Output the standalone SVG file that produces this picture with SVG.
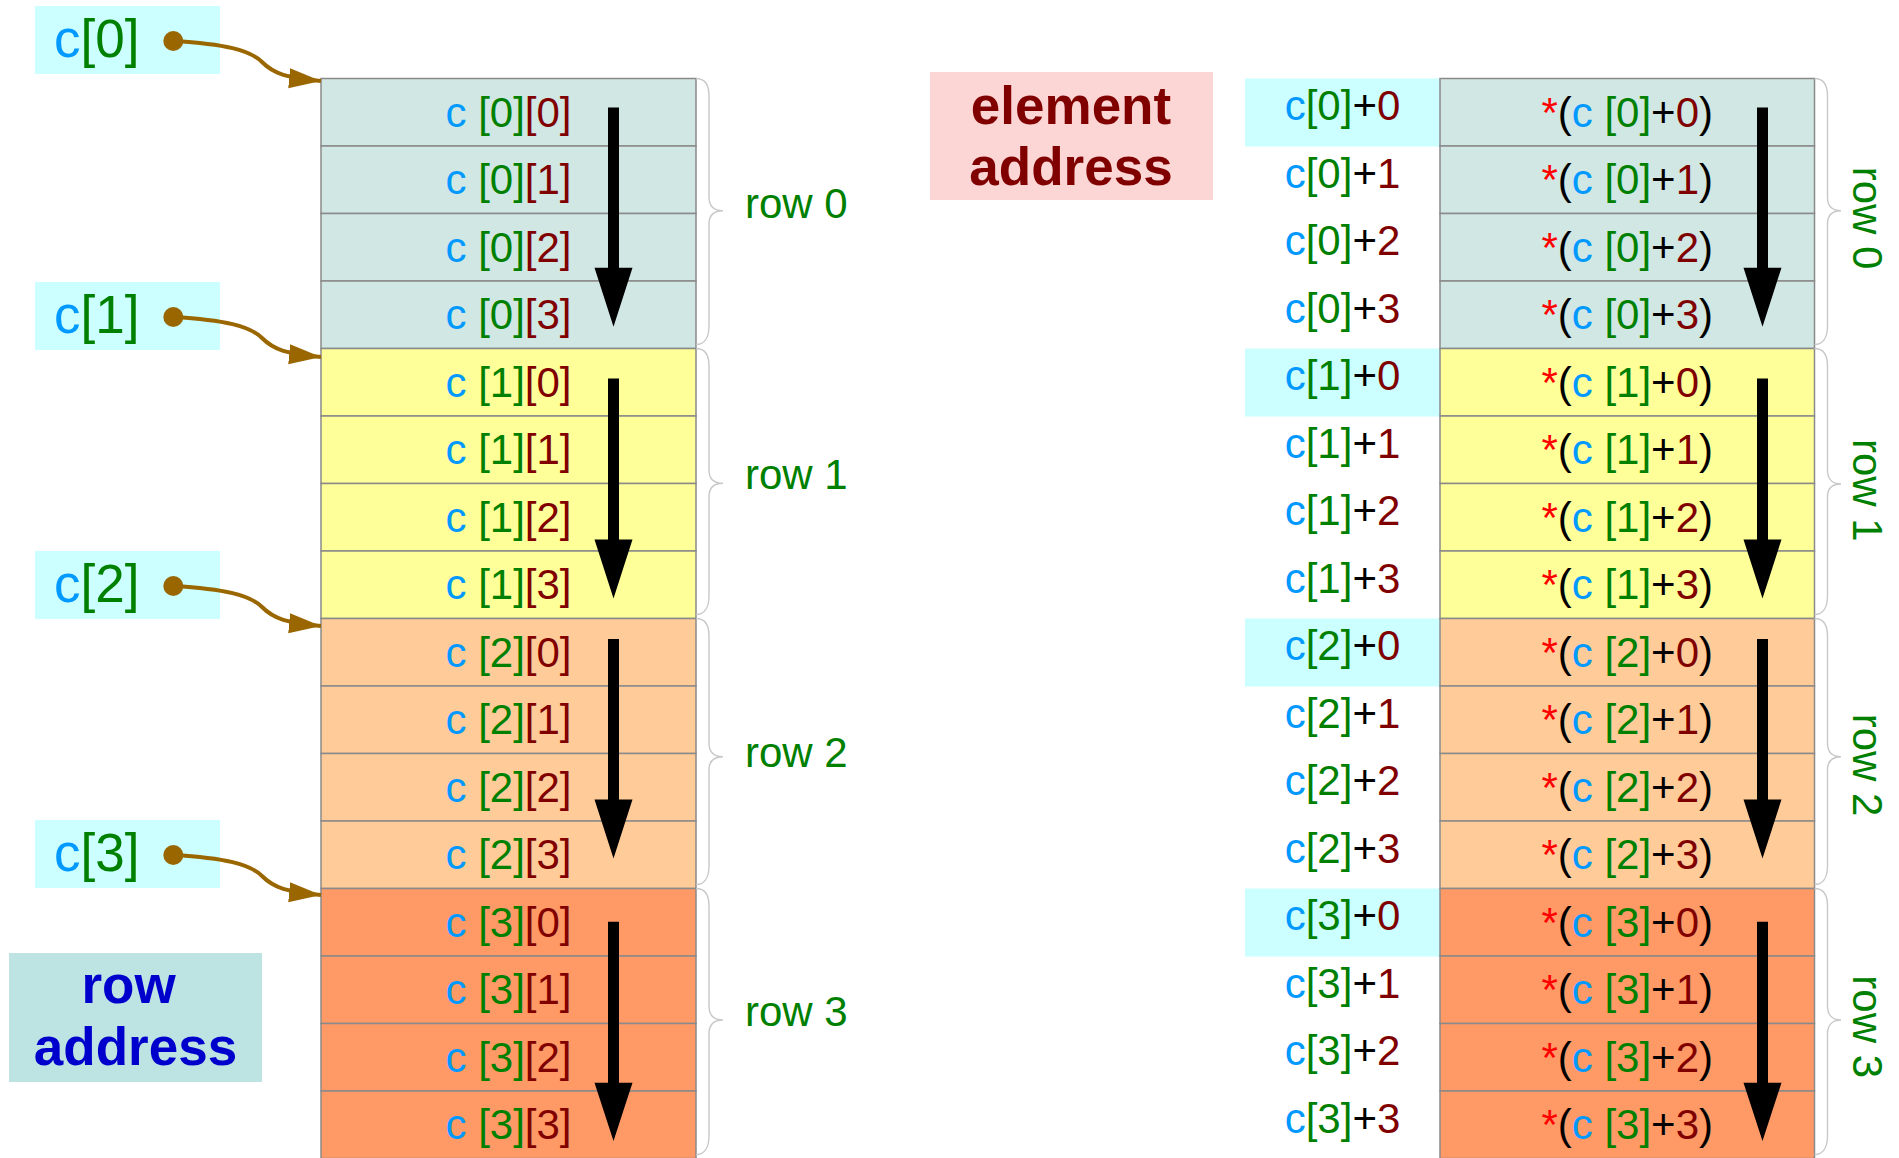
<svg xmlns="http://www.w3.org/2000/svg" width="1899" height="1158" viewBox="0 0 1899 1158">
<style>
text{font-family:"Liberation Sans",Arial,sans-serif}
.cell{stroke:#8a8a8a;stroke-width:1.5}
.r0{fill:#d0e7e3}.r1{fill:#ffff99}.r2{fill:#ffcc99}.r3{fill:#ff9966}
.t{font-size:42px;text-anchor:middle}
.lbl{font-size:53px}
.b{fill:#0099ff}.g{fill:#008000}.d{fill:#800000}.k{fill:#000}.s{fill:#ff0000}
.rowl{font-size:42px;fill:#008000}
.brace{fill:none;stroke:#c8c8c8;stroke-width:1.4}
.cyan{fill:#ccffff}
.conn{fill:none;stroke:#996600;stroke-width:4}
.big{font-size:53px;font-weight:bold;text-anchor:middle}
</style>
<defs>
<marker id="ah" markerUnits="userSpaceOnUse" markerWidth="34" markerHeight="22" refX="32" refY="10" orient="auto" viewBox="0 0 34 22">
<path d="M0,0 L32,10 L0,20 z" fill="#996600"/>
</marker>
</defs>

<!-- row address pointers -->
<g id="ptr0"><rect class="cyan" x="35" y="6" width="185" height="68"/><text class="lbl" x="54" y="57"><tspan class="b">c</tspan><tspan class="g">[0]</tspan></text></g>
<g id="ptr1"><rect class="cyan" x="35" y="282" width="185" height="68"/><text class="lbl" x="54" y="333"><tspan class="b">c</tspan><tspan class="g">[1]</tspan></text></g>
<g id="ptr2"><rect class="cyan" x="35" y="551" width="185" height="68"/><text class="lbl" x="54" y="602"><tspan class="b">c</tspan><tspan class="g">[2]</tspan></text></g>
<g id="ptr3"><rect class="cyan" x="35" y="820" width="185" height="68"/><text class="lbl" x="54" y="871"><tspan class="b">c</tspan><tspan class="g">[3]</tspan></text></g>

<g id="rowaddr"><rect x="9" y="953" width="253" height="129" fill="#bde3e3"/><text class="big" fill="#0000cc" x="128.5" y="1003">row</text><text class="big" fill="#0000cc" x="135.5" y="1065">address</text></g>
<g id="elemaddr"><rect x="930" y="72" width="283" height="128" fill="#fcd5d5"/><text class="big" fill="#800000" x="1071" y="124">element</text><text class="big" fill="#800000" x="1071" y="185">address</text></g>

<!-- left table -->
<g id="left-table">
<g id="L00"><rect class="cell r0" x="321" y="78.5" width="375" height="67.5"/><text class="t" x="508.5" y="126.5"><tspan class="b">c</tspan> <tspan class="g">[0]</tspan><tspan class="d">[0]</tspan></text></g>
<g id="L01"><rect class="cell r0" x="321" y="146" width="375" height="67.5"/><text class="t" x="508.5" y="194"><tspan class="b">c</tspan> <tspan class="g">[0]</tspan><tspan class="d">[1]</tspan></text></g>
<g id="L02"><rect class="cell r0" x="321" y="213.5" width="375" height="67.5"/><text class="t" x="508.5" y="261.5"><tspan class="b">c</tspan> <tspan class="g">[0]</tspan><tspan class="d">[2]</tspan></text></g>
<g id="L03"><rect class="cell r0" x="321" y="281" width="375" height="67.5"/><text class="t" x="508.5" y="329"><tspan class="b">c</tspan> <tspan class="g">[0]</tspan><tspan class="d">[3]</tspan></text></g>
<g id="L10"><rect class="cell r1" x="321" y="348.5" width="375" height="67.5"/><text class="t" x="508.5" y="396.5"><tspan class="b">c</tspan> <tspan class="g">[1]</tspan><tspan class="d">[0]</tspan></text></g>
<g id="L11"><rect class="cell r1" x="321" y="416" width="375" height="67.5"/><text class="t" x="508.5" y="464"><tspan class="b">c</tspan> <tspan class="g">[1]</tspan><tspan class="d">[1]</tspan></text></g>
<g id="L12"><rect class="cell r1" x="321" y="483.5" width="375" height="67.5"/><text class="t" x="508.5" y="531.5"><tspan class="b">c</tspan> <tspan class="g">[1]</tspan><tspan class="d">[2]</tspan></text></g>
<g id="L13"><rect class="cell r1" x="321" y="551" width="375" height="67.5"/><text class="t" x="508.5" y="599"><tspan class="b">c</tspan> <tspan class="g">[1]</tspan><tspan class="d">[3]</tspan></text></g>
<g id="L20"><rect class="cell r2" x="321" y="618.5" width="375" height="67.5"/><text class="t" x="508.5" y="666.5"><tspan class="b">c</tspan> <tspan class="g">[2]</tspan><tspan class="d">[0]</tspan></text></g>
<g id="L21"><rect class="cell r2" x="321" y="686" width="375" height="67.5"/><text class="t" x="508.5" y="734"><tspan class="b">c</tspan> <tspan class="g">[2]</tspan><tspan class="d">[1]</tspan></text></g>
<g id="L22"><rect class="cell r2" x="321" y="753.5" width="375" height="67.5"/><text class="t" x="508.5" y="801.5"><tspan class="b">c</tspan> <tspan class="g">[2]</tspan><tspan class="d">[2]</tspan></text></g>
<g id="L23"><rect class="cell r2" x="321" y="821" width="375" height="67.5"/><text class="t" x="508.5" y="869"><tspan class="b">c</tspan> <tspan class="g">[2]</tspan><tspan class="d">[3]</tspan></text></g>
<g id="L30"><rect class="cell r3" x="321" y="888.5" width="375" height="67.5"/><text class="t" x="508.5" y="936.5"><tspan class="b">c</tspan> <tspan class="g">[3]</tspan><tspan class="d">[0]</tspan></text></g>
<g id="L31"><rect class="cell r3" x="321" y="956" width="375" height="67.5"/><text class="t" x="508.5" y="1004"><tspan class="b">c</tspan> <tspan class="g">[3]</tspan><tspan class="d">[1]</tspan></text></g>
<g id="L32"><rect class="cell r3" x="321" y="1023.5" width="375" height="67.5"/><text class="t" x="508.5" y="1071.5"><tspan class="b">c</tspan> <tspan class="g">[3]</tspan><tspan class="d">[2]</tspan></text></g>
<g id="L33"><rect class="cell r3" x="321" y="1091" width="375" height="67.5"/><text class="t" x="508.5" y="1139"><tspan class="b">c</tspan> <tspan class="g">[3]</tspan><tspan class="d">[3]</tspan></text></g>
</g>

<!-- right address labels -->
<g id="right-labels">
<rect class="cyan" x="1245" y="78.5" width="195" height="68"/>
<rect class="cyan" x="1245" y="348.5" width="195" height="68"/>
<rect class="cyan" x="1245" y="618.5" width="195" height="68"/>
<rect class="cyan" x="1245" y="888.5" width="195" height="68"/>
<text class="t" x="1342.5" y="120"><tspan class="b">c</tspan><tspan class="g">[0]</tspan><tspan class="k">+</tspan><tspan class="d">0</tspan></text>
<text class="t" x="1342.5" y="187.5"><tspan class="b">c</tspan><tspan class="g">[0]</tspan><tspan class="k">+</tspan><tspan class="d">1</tspan></text>
<text class="t" x="1342.5" y="255"><tspan class="b">c</tspan><tspan class="g">[0]</tspan><tspan class="k">+</tspan><tspan class="d">2</tspan></text>
<text class="t" x="1342.5" y="322.5"><tspan class="b">c</tspan><tspan class="g">[0]</tspan><tspan class="k">+</tspan><tspan class="d">3</tspan></text>
<text class="t" x="1342.5" y="390"><tspan class="b">c</tspan><tspan class="g">[1]</tspan><tspan class="k">+</tspan><tspan class="d">0</tspan></text>
<text class="t" x="1342.5" y="457.5"><tspan class="b">c</tspan><tspan class="g">[1]</tspan><tspan class="k">+</tspan><tspan class="d">1</tspan></text>
<text class="t" x="1342.5" y="525"><tspan class="b">c</tspan><tspan class="g">[1]</tspan><tspan class="k">+</tspan><tspan class="d">2</tspan></text>
<text class="t" x="1342.5" y="592.5"><tspan class="b">c</tspan><tspan class="g">[1]</tspan><tspan class="k">+</tspan><tspan class="d">3</tspan></text>
<text class="t" x="1342.5" y="660"><tspan class="b">c</tspan><tspan class="g">[2]</tspan><tspan class="k">+</tspan><tspan class="d">0</tspan></text>
<text class="t" x="1342.5" y="727.5"><tspan class="b">c</tspan><tspan class="g">[2]</tspan><tspan class="k">+</tspan><tspan class="d">1</tspan></text>
<text class="t" x="1342.5" y="795"><tspan class="b">c</tspan><tspan class="g">[2]</tspan><tspan class="k">+</tspan><tspan class="d">2</tspan></text>
<text class="t" x="1342.5" y="862.5"><tspan class="b">c</tspan><tspan class="g">[2]</tspan><tspan class="k">+</tspan><tspan class="d">3</tspan></text>
<text class="t" x="1342.5" y="930"><tspan class="b">c</tspan><tspan class="g">[3]</tspan><tspan class="k">+</tspan><tspan class="d">0</tspan></text>
<text class="t" x="1342.5" y="997.5"><tspan class="b">c</tspan><tspan class="g">[3]</tspan><tspan class="k">+</tspan><tspan class="d">1</tspan></text>
<text class="t" x="1342.5" y="1065"><tspan class="b">c</tspan><tspan class="g">[3]</tspan><tspan class="k">+</tspan><tspan class="d">2</tspan></text>
<text class="t" x="1342.5" y="1132.5"><tspan class="b">c</tspan><tspan class="g">[3]</tspan><tspan class="k">+</tspan><tspan class="d">3</tspan></text>
</g>

<!-- right table -->
<g id="right-table">
<g id="R00"><rect class="cell r0" x="1440" y="78.5" width="374.5" height="67.5"/><text class="t" x="1627.2" y="126.8"><tspan class="s">*</tspan><tspan class="k">(</tspan><tspan class="b">c</tspan> <tspan class="g">[0]</tspan><tspan class="k">+</tspan><tspan class="d">0</tspan><tspan class="k">)</tspan></text></g>
<g id="R01"><rect class="cell r0" x="1440" y="146" width="374.5" height="67.5"/><text class="t" x="1627.2" y="194.3"><tspan class="s">*</tspan><tspan class="k">(</tspan><tspan class="b">c</tspan> <tspan class="g">[0]</tspan><tspan class="k">+</tspan><tspan class="d">1</tspan><tspan class="k">)</tspan></text></g>
<g id="R02"><rect class="cell r0" x="1440" y="213.5" width="374.5" height="67.5"/><text class="t" x="1627.2" y="261.8"><tspan class="s">*</tspan><tspan class="k">(</tspan><tspan class="b">c</tspan> <tspan class="g">[0]</tspan><tspan class="k">+</tspan><tspan class="d">2</tspan><tspan class="k">)</tspan></text></g>
<g id="R03"><rect class="cell r0" x="1440" y="281" width="374.5" height="67.5"/><text class="t" x="1627.2" y="329.3"><tspan class="s">*</tspan><tspan class="k">(</tspan><tspan class="b">c</tspan> <tspan class="g">[0]</tspan><tspan class="k">+</tspan><tspan class="d">3</tspan><tspan class="k">)</tspan></text></g>
<g id="R10"><rect class="cell r1" x="1440" y="348.5" width="374.5" height="67.5"/><text class="t" x="1627.2" y="396.8"><tspan class="s">*</tspan><tspan class="k">(</tspan><tspan class="b">c</tspan> <tspan class="g">[1]</tspan><tspan class="k">+</tspan><tspan class="d">0</tspan><tspan class="k">)</tspan></text></g>
<g id="R11"><rect class="cell r1" x="1440" y="416" width="374.5" height="67.5"/><text class="t" x="1627.2" y="464.3"><tspan class="s">*</tspan><tspan class="k">(</tspan><tspan class="b">c</tspan> <tspan class="g">[1]</tspan><tspan class="k">+</tspan><tspan class="d">1</tspan><tspan class="k">)</tspan></text></g>
<g id="R12"><rect class="cell r1" x="1440" y="483.5" width="374.5" height="67.5"/><text class="t" x="1627.2" y="531.8"><tspan class="s">*</tspan><tspan class="k">(</tspan><tspan class="b">c</tspan> <tspan class="g">[1]</tspan><tspan class="k">+</tspan><tspan class="d">2</tspan><tspan class="k">)</tspan></text></g>
<g id="R13"><rect class="cell r1" x="1440" y="551" width="374.5" height="67.5"/><text class="t" x="1627.2" y="599.3"><tspan class="s">*</tspan><tspan class="k">(</tspan><tspan class="b">c</tspan> <tspan class="g">[1]</tspan><tspan class="k">+</tspan><tspan class="d">3</tspan><tspan class="k">)</tspan></text></g>
<g id="R20"><rect class="cell r2" x="1440" y="618.5" width="374.5" height="67.5"/><text class="t" x="1627.2" y="666.8"><tspan class="s">*</tspan><tspan class="k">(</tspan><tspan class="b">c</tspan> <tspan class="g">[2]</tspan><tspan class="k">+</tspan><tspan class="d">0</tspan><tspan class="k">)</tspan></text></g>
<g id="R21"><rect class="cell r2" x="1440" y="686" width="374.5" height="67.5"/><text class="t" x="1627.2" y="734.3"><tspan class="s">*</tspan><tspan class="k">(</tspan><tspan class="b">c</tspan> <tspan class="g">[2]</tspan><tspan class="k">+</tspan><tspan class="d">1</tspan><tspan class="k">)</tspan></text></g>
<g id="R22"><rect class="cell r2" x="1440" y="753.5" width="374.5" height="67.5"/><text class="t" x="1627.2" y="801.8"><tspan class="s">*</tspan><tspan class="k">(</tspan><tspan class="b">c</tspan> <tspan class="g">[2]</tspan><tspan class="k">+</tspan><tspan class="d">2</tspan><tspan class="k">)</tspan></text></g>
<g id="R23"><rect class="cell r2" x="1440" y="821" width="374.5" height="67.5"/><text class="t" x="1627.2" y="869.3"><tspan class="s">*</tspan><tspan class="k">(</tspan><tspan class="b">c</tspan> <tspan class="g">[2]</tspan><tspan class="k">+</tspan><tspan class="d">3</tspan><tspan class="k">)</tspan></text></g>
<g id="R30"><rect class="cell r3" x="1440" y="888.5" width="374.5" height="67.5"/><text class="t" x="1627.2" y="936.8"><tspan class="s">*</tspan><tspan class="k">(</tspan><tspan class="b">c</tspan> <tspan class="g">[3]</tspan><tspan class="k">+</tspan><tspan class="d">0</tspan><tspan class="k">)</tspan></text></g>
<g id="R31"><rect class="cell r3" x="1440" y="956" width="374.5" height="67.5"/><text class="t" x="1627.2" y="1004.3"><tspan class="s">*</tspan><tspan class="k">(</tspan><tspan class="b">c</tspan> <tspan class="g">[3]</tspan><tspan class="k">+</tspan><tspan class="d">1</tspan><tspan class="k">)</tspan></text></g>
<g id="R32"><rect class="cell r3" x="1440" y="1023.5" width="374.5" height="67.5"/><text class="t" x="1627.2" y="1071.8"><tspan class="s">*</tspan><tspan class="k">(</tspan><tspan class="b">c</tspan> <tspan class="g">[3]</tspan><tspan class="k">+</tspan><tspan class="d">2</tspan><tspan class="k">)</tspan></text></g>
<g id="R33"><rect class="cell r3" x="1440" y="1091" width="374.5" height="67.5"/><text class="t" x="1627.2" y="1139.3"><tspan class="s">*</tspan><tspan class="k">(</tspan><tspan class="b">c</tspan> <tspan class="g">[3]</tspan><tspan class="k">+</tspan><tspan class="d">3</tspan><tspan class="k">)</tspan></text></g>
</g>

<!-- black traversal arrows -->
<g id="traversal" fill="#000">
<polygon points="608,107.5 619,107.5 619,267.7 632.5,267.7 613.5,326.7 594.5,267.7 608,267.7"/>
<polygon points="608,378.5 619,378.5 619,539.5 632.5,539.5 613.5,598.5 594.5,539.5 608,539.5"/>
<polygon points="608,639 619,639 619,799.5 632.5,799.5 613.5,858.5 594.5,799.5 608,799.5"/>
<polygon points="608,921.7 619,921.7 619,1082.7 632.5,1082.7 613.5,1141 594.5,1082.7 608,1082.7"/>
<polygon points="1757,107.5 1768,107.5 1768,267.7 1781.5,267.7 1762.5,326.7 1743.5,267.7 1757,267.7"/>
<polygon points="1757,378.5 1768,378.5 1768,539.5 1781.5,539.5 1762.5,598.5 1743.5,539.5 1757,539.5"/>
<polygon points="1757,639 1768,639 1768,799.5 1781.5,799.5 1762.5,858.5 1743.5,799.5 1757,799.5"/>
<polygon points="1757,921.7 1768,921.7 1768,1082.7 1781.5,1082.7 1762.5,1141 1743.5,1082.7 1757,1082.7"/>
</g>

<!-- braces -->
<g id="braces">
<path class="brace" d="M696,78.5 C704,78.5 709,84 709,96 L709,197 C709,207 715,210.7 723,210.7 C715,210.7 709,214 709,224 L709,326 C709,338 704,344.5 696,344.5"/>
<path class="brace" d="M696,348.5 C704,348.5 709,354 709,366 L709,470 C709,480 715,483.3 723,483.3 C715,483.3 709,487 709,497 L709,596 C709,608 704,614.5 696,614.5"/>
<path class="brace" d="M696,618.5 C704,618.5 709,624 709,636 L709,743 C709,753 715,756.7 723,756.7 C715,756.7 709,760 709,770 L709,866 C709,878 704,884.5 696,884.5"/>
<path class="brace" d="M696,888.5 C704,888.5 709,894 709,906 L709,1006 C709,1016 715,1020 723,1020 C715,1020 709,1024 709,1034 L709,1136 C709,1148 704,1154.5 696,1154.5"/>
<path class="brace" d="M1814.5,78.5 C1822.5,78.5 1827.5,84 1827.5,96 L1827.5,197 C1827.5,207 1833.5,210.7 1841,210.7 C1833.5,210.7 1827.5,214 1827.5,224 L1827.5,326 C1827.5,338 1822.5,344.5 1814.5,344.5"/>
<path class="brace" d="M1814.5,348.5 C1822.5,348.5 1827.5,354 1827.5,366 L1827.5,470 C1827.5,480 1833.5,484 1841,484 C1833.5,484 1827.5,487 1827.5,497 L1827.5,596 C1827.5,608 1822.5,614.5 1814.5,614.5"/>
<path class="brace" d="M1814.5,618.5 C1822.5,618.5 1827.5,624 1827.5,636 L1827.5,743 C1827.5,753 1833.5,756.7 1841,756.7 C1833.5,756.7 1827.5,760 1827.5,770 L1827.5,866 C1827.5,878 1822.5,884.5 1814.5,884.5"/>
<path class="brace" d="M1814.5,888.5 C1822.5,888.5 1827.5,894 1827.5,906 L1827.5,1006 C1827.5,1016 1833.5,1020 1841,1020 C1833.5,1020 1827.5,1024 1827.5,1034 L1827.5,1136 C1827.5,1148 1822.5,1154.5 1814.5,1154.5"/>
</g>

<!-- row labels -->
<g id="row-labels">
<text class="rowl" x="745" y="218">row 0</text>
<text class="rowl" x="745" y="489.3">row 1</text>
<text class="rowl" x="745" y="766.7">row 2</text>
<text class="rowl" x="745" y="1025.7">row 3</text>
<text class="rowl" text-anchor="middle" transform="translate(1853,218) rotate(90)">row 0</text>
<text class="rowl" text-anchor="middle" transform="translate(1853,490.3) rotate(90)">row 1</text>
<text class="rowl" text-anchor="middle" transform="translate(1853,765) rotate(90)">row 2</text>
<text class="rowl" text-anchor="middle" transform="translate(1853,1026.7) rotate(90)">row 3</text>
</g>

<!-- connectors -->
<g id="connectors">
<circle cx="173.3" cy="41" r="10" fill="#996600"/>
<path class="conn" marker-end="url(#ah)" d="M173.3,41 C225,44 250,50 262,62 C274,74 287,78 321,81"/>
<circle cx="173.3" cy="317" r="10" fill="#996600"/>
<path class="conn" marker-end="url(#ah)" d="M173.3,317 C225,320 250,326 262,338 C274,350 287,354 321,357"/>
<circle cx="173.3" cy="586" r="10" fill="#996600"/>
<path class="conn" marker-end="url(#ah)" d="M173.3,586 C225,589 250,595 262,607 C274,619 287,623 321,626"/>
<circle cx="173.3" cy="855" r="10" fill="#996600"/>
<path class="conn" marker-end="url(#ah)" d="M173.3,855 C225,858 250,864 262,876 C274,888 287,892 321,895"/>
</g>
</svg>
